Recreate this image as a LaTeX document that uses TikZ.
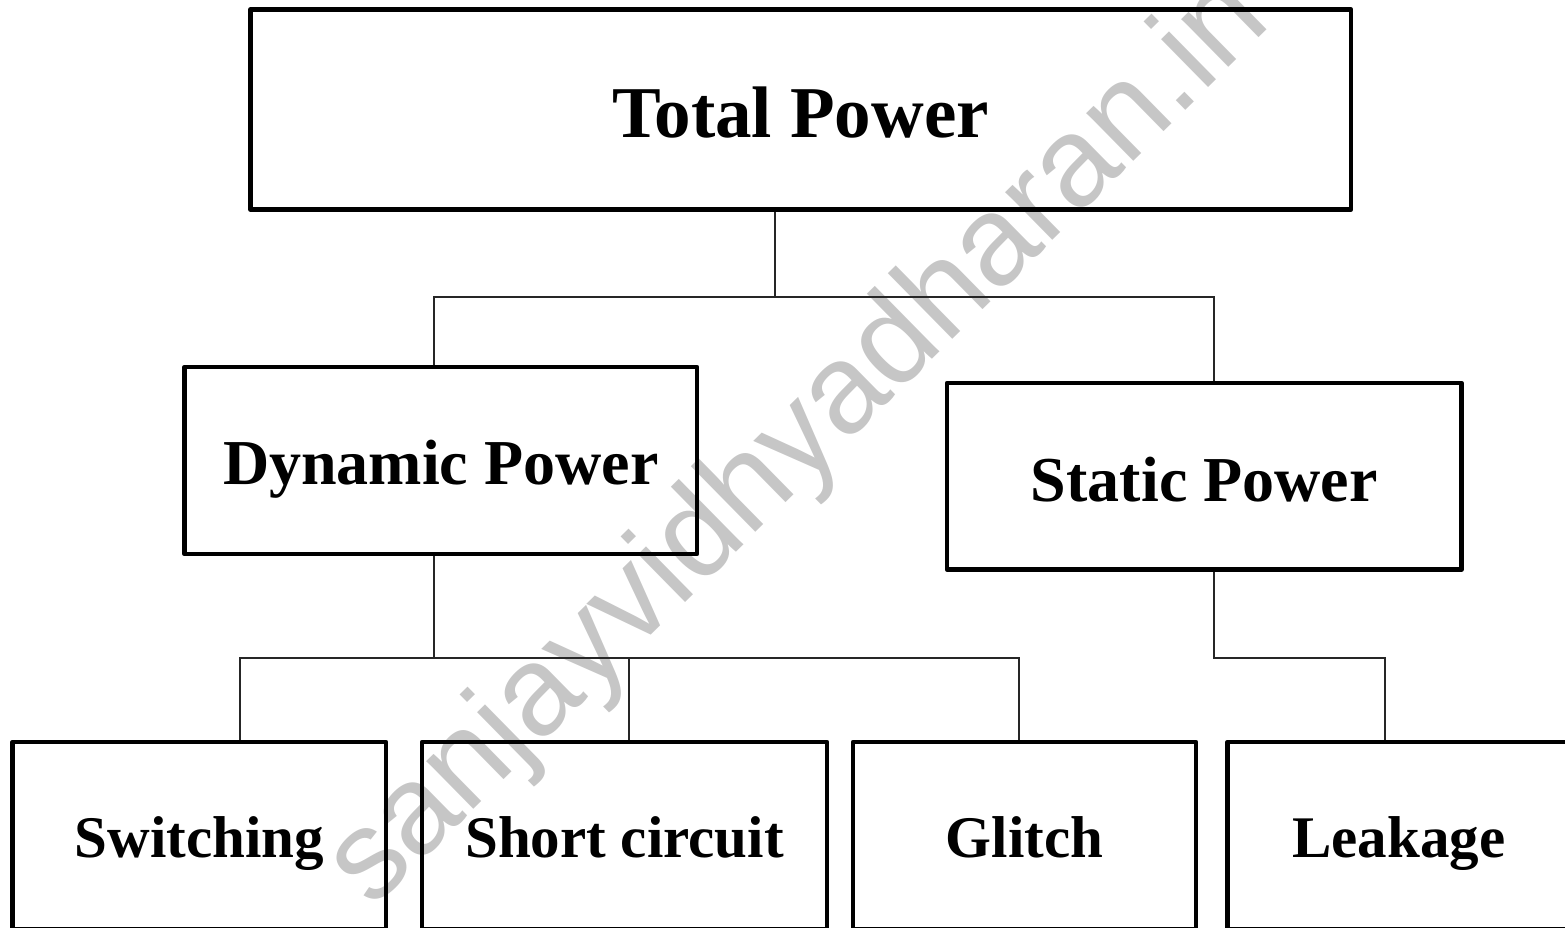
\documentclass[tikz,border=0pt]{standalone}
\usepackage{fontspec}
\setmainfont{Liberation Serif}
\newfontfamily\wmfont{Liberation Sans}
\definecolor{wmgray}{HTML}{C6C6C6}
\begin{document}
\begin{tikzpicture}[x=1pt,y=-1pt,
  box/.style={draw=black, line width=4.5pt, line join=round, rectangle, inner sep=0pt, text depth=0pt},
  conn/.style={draw=black!85, line width=1.8pt},
  lvla/.style={font=\bfseries\fontsize{73}{80}\selectfont},
  lvlb/.style={font=\bfseries\fontsize{64}{70}\selectfont},
  lvlc/.style={font=\bfseries\fontsize{59}{64}\selectfont},
  wm/.style={text=wmgray, inner sep=0pt, font=\wmfont\fontsize{127}{127}\selectfont},
]
\useasboundingbox (0,0) rectangle (1565,927);
% watermark
\node[wm, rotate=44.5, anchor=base west] (wmark) at (372,910) {sanjayvidhyadharan.in};
% boxes
\node[box, lvla, minimum width=1100.5pt, minimum height=200pt, text height=55pt] (total) at (800.75,109.5) {Total Power};
\node[box, lvlb, minimum width=512.5pt, minimum height=187pt, text height=47pt] (dyn) at (440.75,460.5) {Dynamic Power};
\node[box, lvlb, minimum width=514.5pt, minimum height=186.5pt, text height=49.5pt] (stat) at (1204.25,476.25) {Static Power};
\node[box, lvlc, minimum width=373.5pt, minimum height=187pt, text height=43pt] (sw) at (199.25,835.5) {Switching};
\node[box, lvlc, minimum width=405pt, minimum height=187pt, text height=43pt] (sc) at (624.5,835.5) {Short circuit};
\node[box, lvlc, minimum width=343pt, minimum height=187pt, text height=43pt] (gl) at (1024.5,835.5) {Glitch};
\node[box, lvlc, minimum width=342.5pt, minimum height=187pt, text height=43pt] (lk) at (1398.75,835.5) {Leakage};
% junctions
\coordinate (t0) at (775,297);
\coordinate (tl) at (434,297);
\coordinate (tr) at (1214,297);
\coordinate (d0) at (434,658);
\coordinate (dl) at (240,658);
\coordinate (dm) at (629,658);
\coordinate (dr) at (1019,658);
\coordinate (s0) at (1214,658);
\coordinate (s1) at (1385,658);
% connectors
\draw[conn] (t0 |- total.south) -- (t0);
\draw[conn] (tl |- dyn.north) -- (tl) -- (tr) -- (tr |- stat.north);
\draw[conn] (d0 |- dyn.south) -- (d0);
\draw[conn] (dl |- sw.north) -- (dl) -- (dr) -- (dr |- gl.north);
\draw[conn] (dm) -- (dm |- sc.north);
\draw[conn] (s0 |- stat.south) -- (s0) -- (s1) -- (s1 |- lk.north);
\end{tikzpicture}
\end{document}
